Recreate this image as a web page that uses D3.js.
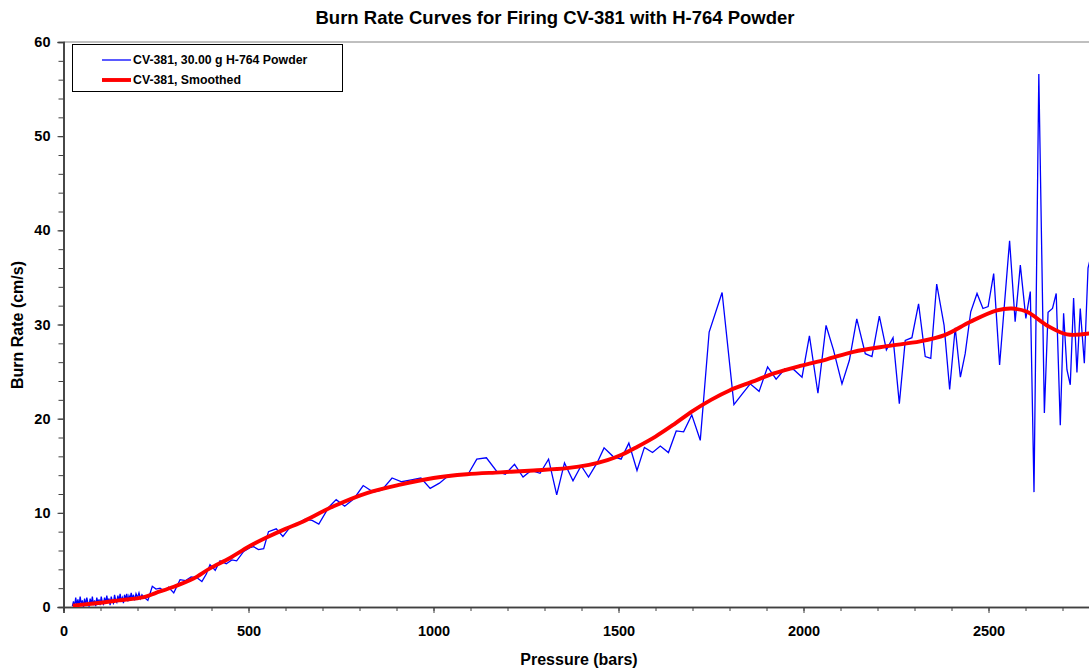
<!DOCTYPE html>
<html>
<head>
<meta charset="utf-8">
<script src="https://cdn.jsdelivr.net/npm/d3@7"></script>
<style>
  html, body { margin: 0; padding: 0; background: #fff; }
  svg { display: block; font-family: "Liberation Sans", Arial, sans-serif; }
</style>
</head>
<body>
<svg id="chart" width="1089" height="672"></svg>
<script>
const title = "Burn Rate Curves for Firing CV-381 with H-764 Powder";
const xLabel = "Pressure (bars)";
const yLabel = "Burn Rate (cm/s)";
const seriesNames = ["CV-381, 30.00 g H-764 Powder", "CV-381, Smoothed"];
const xMajorTicks = [0, 500, 1000, 1500, 2000, 2500];
const yMajorTicks = [0, 10, 20, 30, 40, 50, 60];

const rawPressure = [
  24,27,30,33,36,39,42,45,48,51,54,57,60,63,66,69,72,75,78,81,84,87,90,93,96,99,102,105,108,111,
  114,117,120,123,126,129,132,135,138,141,144,147,150,153,156,159,162,165,168,171,174,177,180,183,186,189,192,196,200,204,
  208,212,217,228,240,250,261,272,284,298,315,330,345,361,374,386,396,410,423,440,455,468,487,504,514,527,541,554,575,593,
  613,635,652,672,690,717,737,760,785,810,837,860,888,914,940,966,991,1016,1036,1065,1095,1117,1143,1171,1194,1219,1242,1264,1288,1311,
  1333,1354,1377,1399,1419,1442,1461,1485,1507,1528,1550,1570,1592,1613,1635,1656,1676,1698,1721,1745,1780,1812,1834,1856,1880,1903,1926,1950,1974,1996,
  2016,2039,2061,2081,2104,2124,2144,2167,2185,2205,2224,2242,2259,2275,2293,2311,2329,2344,2360,2380,2395,2410,2424,2437,2452,2469,2485,2499,2514,2530,
  2543,2557,2572,2586,2601,2613,2623,2636,2651,2661,2673,2683,2694,2703,2712,2721,2730,2739,2748,2759,2769,2774
];
const rawRate = [
  0.1,0.6,0.0,1.0,0.2,0.8,0.1,1.1,0.3,0.7,0.0,0.9,0.2,1.0,0.4,0.1,0.9,0.3,1.1,0.2,0.7,0.1,1.0,0.4,0.8,0.2,1.1,0.5,0.3,1.0,
  0.4,1.2,0.5,0.9,0.2,1.1,0.6,0.4,1.3,0.7,0.5,1.2,0.6,1.4,0.7,1.0,0.4,1.3,0.8,1.4,0.6,1.2,0.9,1.5,0.8,1.3,0.7,1.4,1.0,1.5,
  0.9,1.3,1.05,0.7,2.2,1.9,2.0,1.7,2.1,1.5,2.9,2.8,3.2,3.1,2.7,3.5,4.5,3.9,4.9,4.6,5.0,4.9,5.9,6.3,6.4,6.1,6.2,8.0,8.3,7.5,
  8.5,8.95,9.3,9.2,8.8,10.6,11.4,10.7,11.5,12.9,12.2,12.4,13.7,13.3,13.5,13.7,12.6,13.15,13.8,14.0,14.2,15.7,15.85,14.4,14.1,15.15,13.8,14.5,14.2,15.7,
  11.9,15.3,13.4,15.0,13.8,15.3,16.9,16.0,15.7,17.4,14.5,16.95,16.4,17.1,16.4,18.7,18.6,20.4,17.7,29.2,33.4,21.5,22.6,23.7,22.9,25.5,24.2,25.3,25.2,24.4,
  28.8,22.7,29.9,27.3,23.7,26.2,30.6,26.9,26.6,30.9,27.3,28.6,21.6,28.3,28.6,32.2,26.6,26.4,34.3,29.9,23.1,29.65,24.4,26.9,31.35,33.3,31.7,31.9,35.4,25.7,
  32.1,38.9,30.3,36.3,30.65,33.5,12.2,56.6,20.6,31.3,31.7,33.3,19.3,31.2,25.2,23.6,32.8,24.9,31.7,25.9,36.0,36.8
];

const smoothPressure = [25,100,150,217,250,298,350,396,450,500,550,600,640,730,820,910,1000,1090,1180,1270,1361,1420,1470,1510,1550,1600,1650,1700,1750,1800,1860,1920,1991,2063,2135,2225,2315,2383,2451,2523,2563,2604,2658,2712,2774];
const smoothRate =     [0.15,0.45,0.7,1.05,1.5,2.15,3.0,4.1,5.2,6.4,7.4,8.3,8.95,10.7,12.1,13.0,13.7,14.1,14.3,14.5,14.75,15.1,15.6,16.2,17.0,18.1,19.4,20.8,22.0,23.0,23.9,24.8,25.6,26.3,27.1,27.7,28.2,28.9,30.3,31.5,31.7,31.35,29.9,28.95,29.05];

const svg = d3.select("#chart");
const plotLeft = 63.5, plotTop = 42, plotBottom = 607;
const x = d3.scaleLinear().domain([0, 2800]).range([plotLeft, plotLeft + 2800 * 0.37]);
const y = d3.scaleLinear().domain([0, 60]).range([plotBottom, plotTop]);

svg.append("defs").append("clipPath").attr("id", "clip")
  .append("rect").attr("x", plotLeft).attr("y", plotTop - 2).attr("width", 1089 - plotLeft).attr("height", plotBottom - plotTop + 2);

// Title
svg.append("text").attr("x", 555).attr("y", 24).attr("text-anchor", "middle")
  .attr("font-size", 18.5).attr("font-weight", "bold").text(title);

// top frame line
svg.append("line").attr("x1", plotLeft).attr("x2", 1089).attr("y1", plotTop).attr("y2", plotTop)
  .attr("stroke", "#808080").attr("stroke-width", 1);

function styleAxis(g) {
  g.select(".domain").attr("stroke", "#404040").attr("stroke-width", 1.6);
  g.selectAll(".tick line").attr("stroke", "#404040").attr("stroke-width", 1);
  g.selectAll("text").attr("font-size", 14.5).attr("font-weight", "bold").attr("fill", "#000")
    .attr("font-family", "Liberation Sans, Arial, sans-serif");
}

// X axis
const xMinor = d3.axisBottom(x).tickValues(d3.range(0, 2801, 100)).tickSize(4).tickFormat("");
const xMajor = d3.axisBottom(x).tickValues(xMajorTicks).tickSize(6).tickPadding(13).tickFormat(d3.format("d"));
styleAxis(svg.append("g").attr("transform", `translate(0,${plotBottom})`).call(xMinor));
styleAxis(svg.append("g").attr("transform", `translate(0,${plotBottom})`).call(xMajor));

// Y axis
const yMinor = d3.axisLeft(y).tickValues(d3.range(0, 61, 2)).tickSize(5).tickFormat("");
const yMajor = d3.axisLeft(y).tickValues(yMajorTicks).tickSize(6).tickPadding(7).tickFormat(d3.format("d"));
styleAxis(svg.append("g").attr("transform", `translate(${plotLeft},0)`).call(yMinor));
styleAxis(svg.append("g").attr("transform", `translate(${plotLeft},0)`).call(yMajor));

// Axis labels
svg.append("text").attr("x", 579).attr("y", 665).attr("text-anchor", "middle")
  .attr("font-size", 16).attr("font-weight", "bold").text(xLabel);
svg.append("text").attr("transform", "translate(23,325) rotate(-90)").attr("text-anchor", "middle")
  .attr("font-size", 16).attr("font-weight", "bold").text(yLabel);

// Data
const raw = rawPressure.map((p, i) => [p, rawRate[i]]);
const smooth = smoothPressure.map((p, i) => [p, smoothRate[i]]);
const plot = svg.append("g").attr("clip-path", "url(#clip)");

plot.append("path").datum(raw)
  .attr("d", d3.line().x(d => x(d[0])).y(d => y(d[1])))
  .attr("fill", "none").attr("stroke", "#0000ff").attr("stroke-width", 1.3).attr("stroke-linejoin", "miter");

plot.append("path").datum(smooth)
  .attr("d", d3.line().curve(d3.curveCatmullRom.alpha(0.5)).x(d => x(d[0])).y(d => y(d[1])))
  .attr("fill", "none").attr("stroke", "#ff0000").attr("stroke-width", 3.9).attr("stroke-linecap", "butt");

// Legend
const lg = svg.append("g");
lg.append("rect").attr("x", 72.5).attr("y", 44.5).attr("width", 270).attr("height", 47)
  .attr("fill", "#fff").attr("stroke", "#000").attr("stroke-width", 1);
const legendItems = [
  { name: seriesNames[0], color: "#0000ff", w: 1.3, y: 60 },
  { name: seriesNames[1], color: "#ff0000", w: 3.9, y: 80 }
];
legendItems.forEach(it => {
  lg.append("line").attr("x1", 102).attr("x2", 131).attr("y1", it.y).attr("y2", it.y)
    .attr("stroke", it.color).attr("stroke-width", it.w);
  lg.append("text").attr("x", 133).attr("y", it.y + 4).attr("font-size", 12.3).attr("font-weight", "bold")
    .text(it.name);
});
</script>
</body>
</html>
